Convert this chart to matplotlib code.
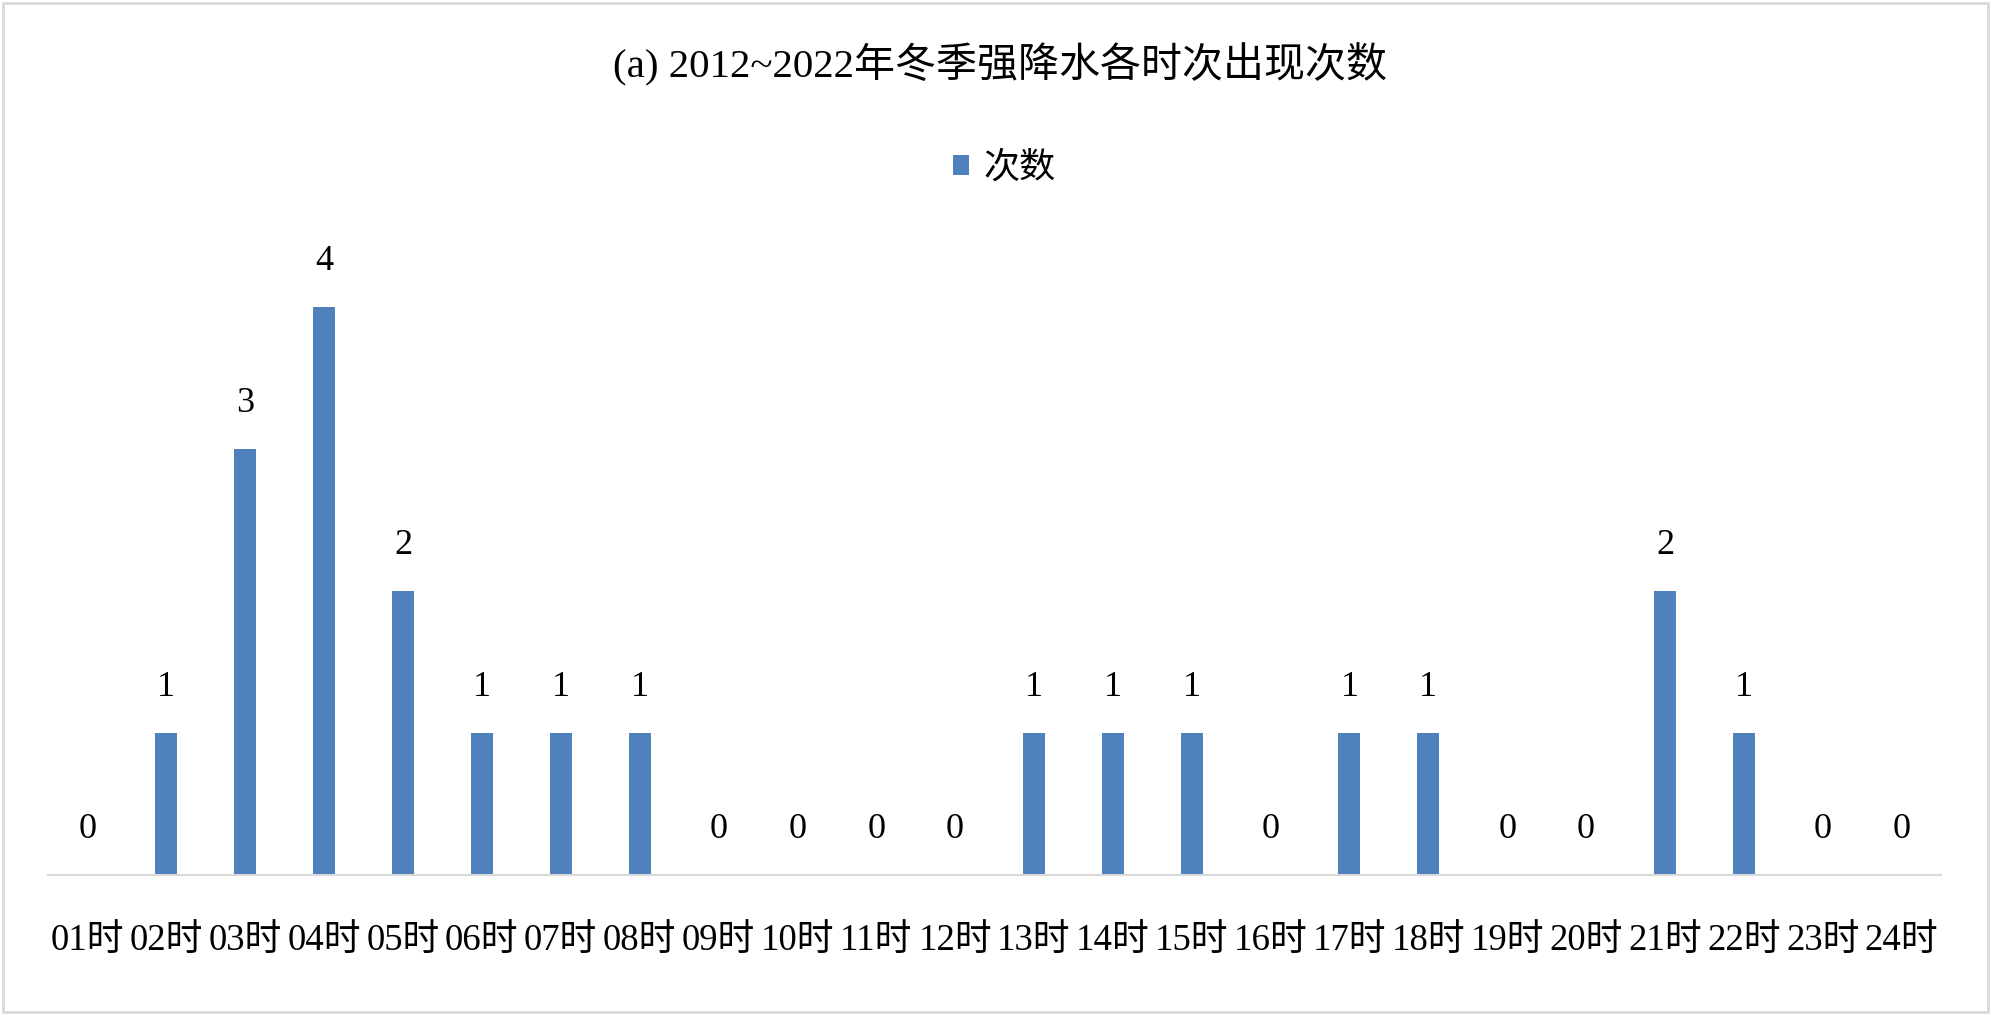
import matplotlib.pyplot as plt
from matplotlib.patches import Rectangle

# 字体：数字用衬线体，中文回退到 Noto Sans CJK
plt.rcParams['font.family'] = ['Liberation Serif', 'Noto Sans CJK SC']

# 数据
horas = ['%02d时' % h for h in range(1, 25)]
counts = [0, 1, 3, 4, 2, 1, 1, 1, 0, 0, 0, 0, 1, 1, 1, 0, 1, 1, 0, 0, 2, 1, 0, 0]
titulo = '(a) 2012~2022年冬季强降水各时次出现次数'
legenda = '次数'

cor_barra = '#4f81bd'
cor_cinza = '#d9d9d9'

fig = plt.figure(figsize=(20, 10.22), dpi=100)
ax = fig.add_axes([0.024, 0.1438, 0.9465, 0.625])

x = range(len(horas))
barras = ax.bar(x, counts, width=0.28, color=cor_barra, label=legenda)

# rótulos de valor acima das barras
for xi, v in zip(x, counts):
    ax.annotate(str(v), (xi, v), xytext=(0, 33), textcoords='offset points',
                ha='center', va='center', fontsize=26)

ax.set_xlim(-0.5, len(horas) - 0.5)
ax.set_ylim(0, 4.5)
ax.set_xticks(list(x))
ax.set_xticklabels(horas, fontsize=26.5)
ax.tick_params(axis='x', length=0, pad=35)
ax.set_yticks([])
for lado in ['top', 'left', 'right']:
    ax.spines[lado].set_visible(False)
ax.spines['bottom'].set_color(cor_cinza)
ax.spines['bottom'].set_linewidth(1.5)

fig.text(0.5, 1 - 65 / 1022, titulo, ha='center', va='center', fontsize=29.5)

fig.legend(handles=[barras], labels=[legenda], loc='center',
           bbox_to_anchor=(0.502, 1 - 169 / 1022), frameon=False, fontsize=26,
           handlelength=0.45, handleheight=0.45, handletextpad=0.4)

# moldura do gráfico
fig.patches.append(Rectangle((3 / 2000, 10 / 1022), 1985 / 2000, 1009 / 1022,
                             transform=fig.transFigure, fill=False,
                             edgecolor=cor_cinza, linewidth=2))

plt.savefig('out.png', dpi=100)
